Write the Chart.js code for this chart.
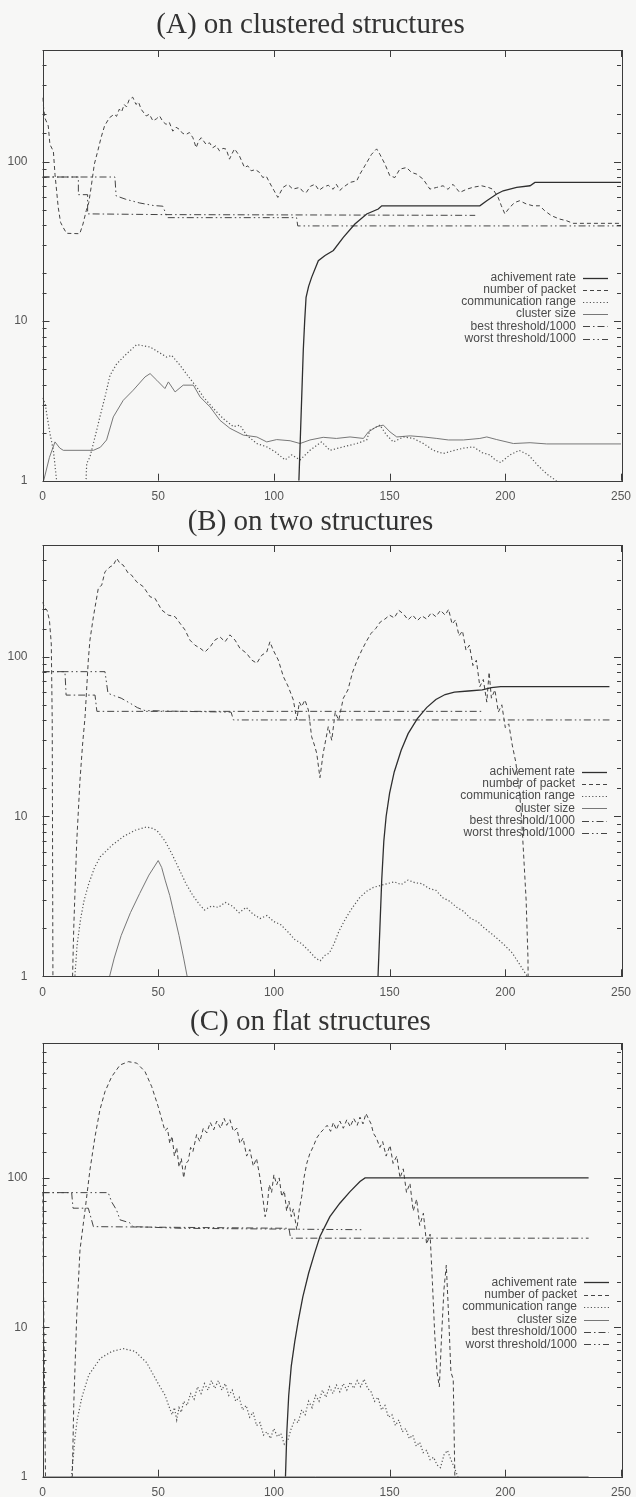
<!DOCTYPE html>
<html>
<head>
<meta charset="utf-8">
<title>threshold runs</title>
<script src="https://cdn.jsdelivr.net/npm/chart.js@4.4.1/dist/chart.umd.min.js"></script>
<style>
  html, body { margin: 0; padding: 0; background: #f7f7f6; }
  canvas.panel { position: absolute; left: 0; }
</style>
</head>
<body>
<canvas id="chartA" class="panel" width="636" height="506" style="top:0px"></canvas>
<canvas id="chartB" class="panel" width="636" height="496" style="top:506px"></canvas>
<canvas id="chartC" class="panel" width="636" height="495" style="top:1002px"></canvas>
<script>
// series labels, in key order
const seriesNames = ['achivement rate', 'number of packet', 'communication range',
                     'cluster size', 'best threshold/1000', 'worst threshold/1000'];
const xTicks = [0, 50, 100, 150, 200, 250];
const yLabelled = [1, 10, 100];

// ---- (A) clustered ----
const achieveA = [[110.8,1],[111.5,2],[112.2,4],[112.7,6.6],[113.3,10],[113.9,14.1],[115,16.5],[116.3,18.8],[119.2,23.9],[122.1,25.8],[125.7,27.7],[130,33.5],[135,40.6],[140.1,46.9],[145.1,50.4],[146.6,52.8],[189,52.8],[192,56.8],[196.3,62.6],[199.1,65.6],[204.9,68.8],[210.7,70.5],[212.8,74],[250,74]];
const packetA = [[0,251],[1,188],[2.5,167],[3.2,128],[4.7,116],[5.4,83],[6.8,51.6],[7.8,41.6],[8.9,38.7],[10.4,35.5],[16.1,35.3],[17.5,40.6],[18.9,49.2],[20,55.4],[21,68.8],[22.4,96.3],[23.9,116.6],[25.3,141],[26.8,167],[28.9,188],[31,198],[32,192],[33.2,213],[34.2,205],[35.3,228],[36.3,220],[37.5,245],[39,253],[40.4,228],[41.5,236],[42.6,213],[44.8,193],[46.2,198],[47.7,180],[49.2,185],[50.6,193],[52,178],[53.4,171],[54.8,176],[56.3,155],[57.7,164],[59.2,159],[60.6,150],[62.1,148],[63.5,152],[65,141],[66.4,122],[67.5,135],[68.6,141],[70.7,128],[72.2,131],[73.6,122],[75,126],[76.5,116.6],[78,121],[79.4,119.6],[80.8,103.5],[81.9,112],[83,120],[85.1,108.5],[87.3,91.7],[88.7,94],[90.2,87.5],[92,89],[93.8,85.4],[95.2,79.4],[96.7,81],[98.1,73.9],[100,66],[101.7,59.6],[103.9,68.8],[106,71.9],[108.2,67.2],[111.1,68.8],[112.5,65],[114,64],[115.8,70],[117.7,72],[119.5,66],[121.3,69],[123.5,71],[125.6,67],[127,72],[128.5,66],[130,69],[132.9,74],[135.8,75.7],[137.2,83.5],[139.3,94],[142.2,111],[144.4,120],[145.8,111],[148,96.3],[150.1,81.4],[152.3,79.4],[154.4,89.6],[157.3,91.7],[159.5,85.4],[161.6,83.5],[164.5,77.6],[167.4,67.2],[170.3,68.8],[173.1,70.5],[175.2,67],[177.4,72],[180.3,64],[183.2,67],[186.1,69],[189.7,70.5],[192.5,69],[194.7,67],[196.9,59.6],[198.3,52.8],[199.8,47],[201.9,51.6],[204.1,55.4],[206.2,56.8],[209.1,54.2],[212,52.8],[214.9,52.8],[217,49.2],[219.9,45.8],[223.5,43.6],[226.4,42.6],[229.3,41],[233.6,41],[240.8,41],[250,41]];
const commA = [[0,3.3],[1.1,3.05],[3.2,1.98],[4.7,1.55],[6.1,1],[7,0.5],[18,0.5],[19.1,1.28],[20.5,1.41],[22.7,1.88],[24.8,2.51],[27,3.35],[29.2,4.58],[32.1,5.41],[36.4,6.25],[40.7,7.12],[46.5,6.88],[53.7,5.95],[55.8,6.1],[59.4,5.3],[63.7,4.37],[66.6,3.87],[69.5,3.35],[73.8,2.84],[78.1,2.45],[82.5,2.18],[85.3,2.23],[88.2,1.93],[92.6,1.71],[96.9,1.63],[100.5,1.52],[104.8,1.35],[107.7,1.45],[111.3,1.35],[115.6,1.55],[120.6,1.75],[124.2,1.55],[130,1.63],[135.8,1.71],[140.1,1.8],[141.5,2.07],[145.8,2.23],[148.7,1.93],[151.6,1.75],[156,1.88],[160.2,1.84],[164.6,1.71],[168.9,1.55],[173.2,1.48],[178,1.55],[182,1.6],[186.2,1.63],[190,1.5],[193.4,1.45],[195.6,1.35],[198,1.3],[202,1.45],[206,1.55],[210,1.45],[214,1.25],[218,1.1],[222,1.0],[224,0.9]];
const clusterA = [[0.5,1],[3,1.4],[5.4,1.75],[7.5,1.6],[9,1.55],[22,1.55],[25,1.62],[27.7,1.8],[30.6,2.51],[34.9,3.19],[39.2,3.69],[44.3,4.47],[46.5,4.69],[49.4,4.26],[52.9,3.78],[54.4,4.16],[57.3,3.6],[60.8,3.97],[65.2,3.97],[68.1,3.35],[72.4,2.9],[76.7,2.39],[81,2.13],[86.8,1.93],[92.6,1.88],[96.9,1.75],[101.2,1.81],[107,1.78],[111.3,1.71],[115.6,1.8],[121.3,1.87],[127,1.84],[132.9,1.88],[138.7,1.84],[140.8,2.02],[144.4,2.18],[147.3,2.23],[150.2,2.02],[153.1,1.88],[158.9,1.91],[164.6,1.88],[170.4,1.84],[175.4,1.8],[181.9,1.8],[189,1.84],[192,1.88],[196.3,1.81],[203.5,1.71],[210.7,1.73],[217.9,1.7],[250,1.7]];
const bestA = [[0,80],[15.5,80],[15.5,62],[19.5,62],[19.5,47],[52,46.5],[187,46]];
const worstA = [[0,80],[31.3,80],[31.8,61],[36,58],[42,55],[48,53],[52,52.5],[54,44.5],[109.8,44.5],[110.3,39.5],[250,39.5]];

// ---- (B) two structures ----
const achieveB = [[145,1],[145.8,2],[146.6,4],[147.5,7],[148.5,10],[150,14],[152,19],[155,26],[158,33],[162,41],[166,48],[170,54],[174,58],[178,60],[184,61],[190,62],[194,64],[198,65],[245,65]];
const packetB = [[0,220],[1,201],[2,195],[3,169],[3.8,120],[4.2,40],[4.5,1],[4.7,0.5],[12.5,0.5],[13.5,2],[14.8,7],[16.2,16.9],[17.3,28],[18.4,42.2],[19.8,95.3],[20.5,127],[22,178],[24.1,267],[25.6,281],[27,340],[29.2,365],[30.6,374],[32.1,412],[33.5,383],[34.9,374],[37.1,332],[38.5,324],[40.7,294],[43.6,274],[46.5,237],[48.6,232],[51.5,196],[54.4,182],[57.3,178],[59.4,162],[61.6,147],[63.7,127],[65.9,118],[68.1,113],[70.2,107],[72.4,115],[74.5,127],[76.7,133],[78.9,124],[81,137],[83.2,127],[85.3,113],[88.2,105],[90.4,95.3],[92.6,91],[94.7,102],[96.9,107],[98.3,124],[99.7,110],[101.9,95.3],[104.1,75],[106.2,65],[108.4,53.6],[109.9,40.2],[111,52],[112,48.7],[113.4,53.6],[114.9,46.4],[116.3,31.6],[117.5,28],[118.5,24.9],[119.9,17.5],[121.3,24.9],[123.5,36.5],[125,30],[126.5,45],[128,40],[130,55],[132,62],[134,80],[136,95],[138,110],[140,125],[142,140],[144,150],[146,165],[148,172],[150,182],[152,175],[154,195],[156,185],[158,170],[160,182],[162,168],[164,180],[166,172],[168,188],[170,178],[172,195],[174,182],[175.5,198],[177,160],[178.5,170],[180,135],[181.5,145],[183,110],[184.5,118],[186,88],[187.5,95],[189,65],[190.5,72],[192,52],[193,80],[194,55],[195.5,62],[197,45],[198.5,50],[200,36],[201.5,38],[203,28],[204.5,22],[206,15],[207,10],[208,5.5],[209,3],[209.8,1.3],[210,0.5]];
const commB = [[0,1],[0.5,0.5],[13,0.5],[14,1],[15,1.6],[16.5,2.3],[18,3.0],[20,3.8],[22.5,4.8],[25,5.6],[30,6.6],[35,7.5],[40,8.2],[45,8.6],[48,8.4],[50,8.0],[53,7.0],[56,5.8],[59,4.7],[62,3.8],[65,3.2],[68,2.8],[70,2.6],[73,2.75],[76,2.7],[79,2.9],[82,2.75],[85,2.5],[88,2.7],[91,2.45],[94,2.3],[97,2.4],[100,2.2],[103,2.1],[106,1.9],[109,1.7],[112,1.6],[115,1.45],[118,1.3],[120,1.25],[122,1.35],[124,1.4],[126,1.6],[128,1.9],[131,2.3],[134,2.7],[137,3.1],[140,3.4],[143,3.6],[146,3.7],[149,3.8],[152,3.9],[155,3.75],[158,4.0],[161,3.85],[164,3.8],[167,3.55],[170,3.45],[173,3.1],[176,2.95],[179,2.7],[182,2.55],[185,2.3],[188,2.2],[191,2.0],[194,1.85],[197,1.7],[200,1.55],[203,1.4],[206,1.2],[208,1.08],[209.5,1.0],[210,0.5]];
const clusterB = [[28.5,0.5],[29,1],[31,1.3],[34,1.8],[38,2.5],[42,3.3],[46,4.3],[48.5,4.9],[50,5.3],[51.5,4.8],[53,4.0],[55,3.2],[57,2.4],[59,1.8],[61,1.3],[62.5,1.0],[63,0.5]];
const bestB = [[0,80.6],[9.7,80.6],[10.2,57.5],[22.7,57.5],[23.5,45.5],[190,45.5]];
const worstB = [[0,80.6],[27,80.6],[28.3,59],[31,57],[34,55],[38,51],[41,48],[44.3,46],[60,45.5],[81.5,45],[82.5,40.2],[245,40.2]];

// ---- (C) flat ----
const achieveC = [[105,1],[105.6,2],[106.4,3.5],[107.5,5.5],[109,8],[110.5,11],[112.5,16],[115,23],[117.5,31],[119.9,40.5],[124.2,55],[128.5,67.7],[132.9,81],[137.2,94.5],[139.4,100],[236,100]];
const packetC = [[0,80],[1.5,0.5],[12.5,0.5],[13.5,3],[14.8,12],[16.2,33],[18.4,61],[20.5,113],[22.7,189],[24.8,285],[27,378],[29.9,476],[33.5,570],[37.1,600],[40.7,587],[44.3,515],[47.2,408],[50,300],[52.9,207],[54,215],[55,170],[56,190],[57,140],[58,160],[59,118],[60,135],[61,100],[62,125],[63,130],[64,160],[65,150],[66.6,195],[68,175],[69.5,215],[71,200],[72.5,235],[74,210],[75.3,240],[77,215],[78.5,250],[79.6,225],[81,245],[82.5,205],[84,215],[85.3,170],[86.7,185],[88.2,140],[89.6,155],[91.1,120],[92.5,135],[94,100],[95.4,70],[96.2,55],[97,62],[98,90],[99,80],[100,105],[101.2,90],[102.3,100],[103.4,75],[104.5,82],[105.5,60],[106.5,70],[107.5,55],[108.4,62],[109.9,45],[111,62],[112,75],[113,100],[114.2,125],[115.5,145],[117,162],[118.5,185],[120,200],[121.3,210],[123,225],[124.5,205],[125.7,235],[127,210],[128.5,240],[130,215],[131.5,245],[133,220],[134.5,250],[136,225],[137.2,255],[138.5,230],[139.8,270],[140.8,250],[142,230],[143,199],[144.3,185],[145.8,160],[147,175],[148.5,140],[150.2,165],[151.5,125],[153.1,140],[154.5,100],[155.9,115],[157.3,80],[158.8,92],[160.2,60],[161.7,72],[163,48],[164.6,58],[166,36],[167.5,42],[168.5,20],[169.5,9],[170.5,5],[171.5,4],[172.5,9],[173.5,18],[174.5,26],[175.5,12],[176.5,5],[177.5,4.5],[178.2,1],[178.5,0.5]];
const commC = [[11.5,0.5],[12.5,1],[14,1.8],[15,2.4],[17,3.4],[20,4.8],[25,6.2],[30,6.9],[35,7.2],[40,6.9],[45,5.8],[50,4.2],[53,3.5],[54.5,3.0],[56,2.6],[57,2.9],[58,2.4],[59,2.9],[60,2.7],[61,3.2],[62.5,3.0],[64,3.6],[65.5,3.3],[67,4.0],[68.5,3.6],[70,4.2],[71.5,3.8],[73,4.4],[74.5,3.9],[76,4.4],[77.5,3.8],[79,4.2],[80.5,3.5],[82,3.8],[83.5,3.2],[85,3.4],[86.5,2.8],[88,3.0],[89.5,2.5],[91,2.7],[92.5,2.2],[94,2.3],[95.5,1.9],[97,2.0],[98.5,1.8],[100,2.1],[101.5,1.85],[103,1.95],[104.5,1.65],[106,1.75],[107.5,2.1],[109,2.4],[110.5,2.3],[112,2.8],[113.5,2.6],[115,3.2],[116.5,2.9],[118,3.5],[119.5,3.2],[121,3.8],[122.5,3.4],[124,4.0],[125.5,3.6],[127,4.1],[128.5,3.7],[130,4.2],[131.5,3.8],[133,4.3],[134.5,3.9],[136,4.4],[137.5,4.0],[139,4.5],[140.5,3.9],[142,3.7],[143.5,3.2],[145,3.4],[146.5,2.8],[148,3.0],[149.5,2.5],[151,2.6],[152.5,2.2],[154,2.4],[155.5,2.0],[157,2.1],[158.5,1.8],[160,1.9],[161.5,1.6],[163,1.7],[164.5,1.45],[166,1.5],[167.5,1.3],[169,1.35],[170.5,1.2],[172,1.15],[173.5,1.4],[175,1.5],[176.5,1.3],[178,1.15],[179.5,1],[180,0.5]];
const clusterC = [[0,1],[236,1]];
const bestC = [[0,79.7],[12.6,79.7],[13.2,62.7],[19.8,62.7],[22,47.2],[106.5,46],[107.2,39.5],[236,39.5]];
const worstC = [[0,79.7],[28.4,79.7],[29.9,69],[32,61],[33.5,52.4],[37.8,50],[39.2,47.2],[60,46],[138.6,45]];

// line looks, one per series (gnuplot mono styles)
const lineDash = [[], [4, 3], [1.2, 2.2], [], [7, 3, 1.5, 3], [7, 3, 1.5, 3, 1.5, 3]];
const lineColor = ['#2f2f2f', '#444', '#555', '#777', '#444', '#444'];
const lineWidth = [1.3, 1, 1.2, 1, 1, 1];

const sansFont = '"Liberation Sans", Arial, sans-serif';
const serifFont = '"Liberation Serif", "Times New Roman", serif';

// border + inward gnuplot style tick marks on all four sides
const framePlugin = {
  id: 'frame',
  afterDatasetsDraw(chart) {
    const { ctx, chartArea: a, scales: { x, y } } = chart;
    ctx.save();
    ctx.strokeStyle = '#3c3c3c';
    ctx.lineWidth = 1;
    ctx.setLineDash([]);
    ctx.strokeRect(Math.round(a.left) + 0.5, Math.round(a.top) + 0.5,
                   Math.round(a.right - a.left), Math.round(a.bottom - a.top));
    ctx.beginPath();
    x.ticks.forEach(t => {
      const px = Math.round(x.getPixelForValue(t.value)) + 0.5;
      ctx.moveTo(px, a.bottom); ctx.lineTo(px, a.bottom - 7);
      ctx.moveTo(px, a.top); ctx.lineTo(px, a.top + 7);
    });
    y.ticks.forEach(t => {
      const py = Math.round(y.getPixelForValue(t.value)) + 0.5;
      const len = yLabelled.includes(t.value) ? 7 : 4;
      ctx.moveTo(a.left, py); ctx.lineTo(a.left + len, py);
      ctx.moveTo(a.right, py); ctx.lineTo(a.right - len, py);
    });
    ctx.stroke();
    ctx.restore();
  }
};

// key drawn inside the plot, text right aligned with a line sample after it
const keyPlugin = {
  id: 'key',
  afterDatasetsDraw(chart, args, opts) {
    const ctx = chart.ctx;
    ctx.save();
    ctx.font = '12px ' + sansFont;
    ctx.textAlign = 'right';
    ctx.textBaseline = 'middle';
    chart.data.datasets.forEach((ds, i) => {
      const yy = opts.top + i * opts.step;
      ctx.fillStyle = '#4a4a4a';
      ctx.fillText(ds.label, opts.right, yy);
      ctx.strokeStyle = ds.borderColor;
      ctx.lineWidth = ds.borderWidth;
      ctx.setLineDash(ds.borderDash);
      ctx.beginPath();
      ctx.moveTo(opts.right + 7, Math.round(yy) + 0.5);
      ctx.lineTo(opts.right + 32, Math.round(yy) + 0.5);
      ctx.stroke();
    });
    ctx.restore();
  }
};

function makeChart(id, title, titlePad, yMax, series, key, xAxisH) {
  new Chart(document.getElementById(id), {
    type: 'line',
    data: {
      datasets: series.map((pts, i) => ({
        label: seriesNames[i],
        data: pts.map(p => ({ x: p[0], y: p[1] })),
        borderColor: lineColor[i],
        borderWidth: lineWidth[i],
        borderDash: lineDash[i],
        pointRadius: 0,
        tension: 0,
        fill: false
      }))
    },
    options: {
      responsive: false,
      animation: false,
      layout: { padding: { left: 0, right: 15, top: 0, bottom: 0 } },
      plugins: {
        legend: { display: false },
        tooltip: { enabled: false },
        title: {
          display: true,
          text: title,
          color: '#333',
          font: { family: serifFont, size: 29, weight: 'normal', lineHeight: 1 },
          padding: titlePad
        },
        key: key
      },
      scales: {
        x: {
          type: 'linear',
          min: 0, max: 250,
          afterBuildTicks: s => { s.ticks = xTicks.map(v => ({ value: v })); },
          afterFit: s => { s.height = xAxisH; },
          grid: { display: false },
          border: { display: false },
          ticks: { color: '#555', padding: 1, font: { family: sansFont, size: 12 }, maxRotation: 0 }
        },
        y: {
          type: 'logarithmic',
          min: 1, max: yMax,
          afterFit: s => { s.width = 42.5; },
          grid: { display: false },
          border: { display: false },
          ticks: {
            autoSkip: false,
            color: '#555',
            padding: 7,
            font: { family: sansFont, size: 12 },
            callback: v => (yLabelled.includes(v) ? String(v) : '')
          }
        }
      }
    },
    plugins: [framePlugin, keyPlugin]
  });
}

makeChart('chartA', '(A) on clustered structures', { top: 10.5, bottom: 10.5 }, 500,
  [achieveA, packetA, commA, clusterA, bestA, worstA],
  { right: 576, top: 277.5, step: 12.2 }, 25.3);

makeChart('chartB', '(B) on two structures', { top: 1.5, bottom: 8.5 }, 500,
  [achieveB, packetB, commB, clusterB, bestB, worstB],
  { right: 575, top: 265.7, step: 12.2 }, 25.7);

makeChart('chartC', '(C) on flat structures', { top: 5.5, bottom: 6.5 }, 800,
  [achieveC, packetC, commC, clusterC, bestC, worstC],
  { right: 577, top: 280.3, step: 12.4 }, 20.3);
</script>
</body>
</html>
